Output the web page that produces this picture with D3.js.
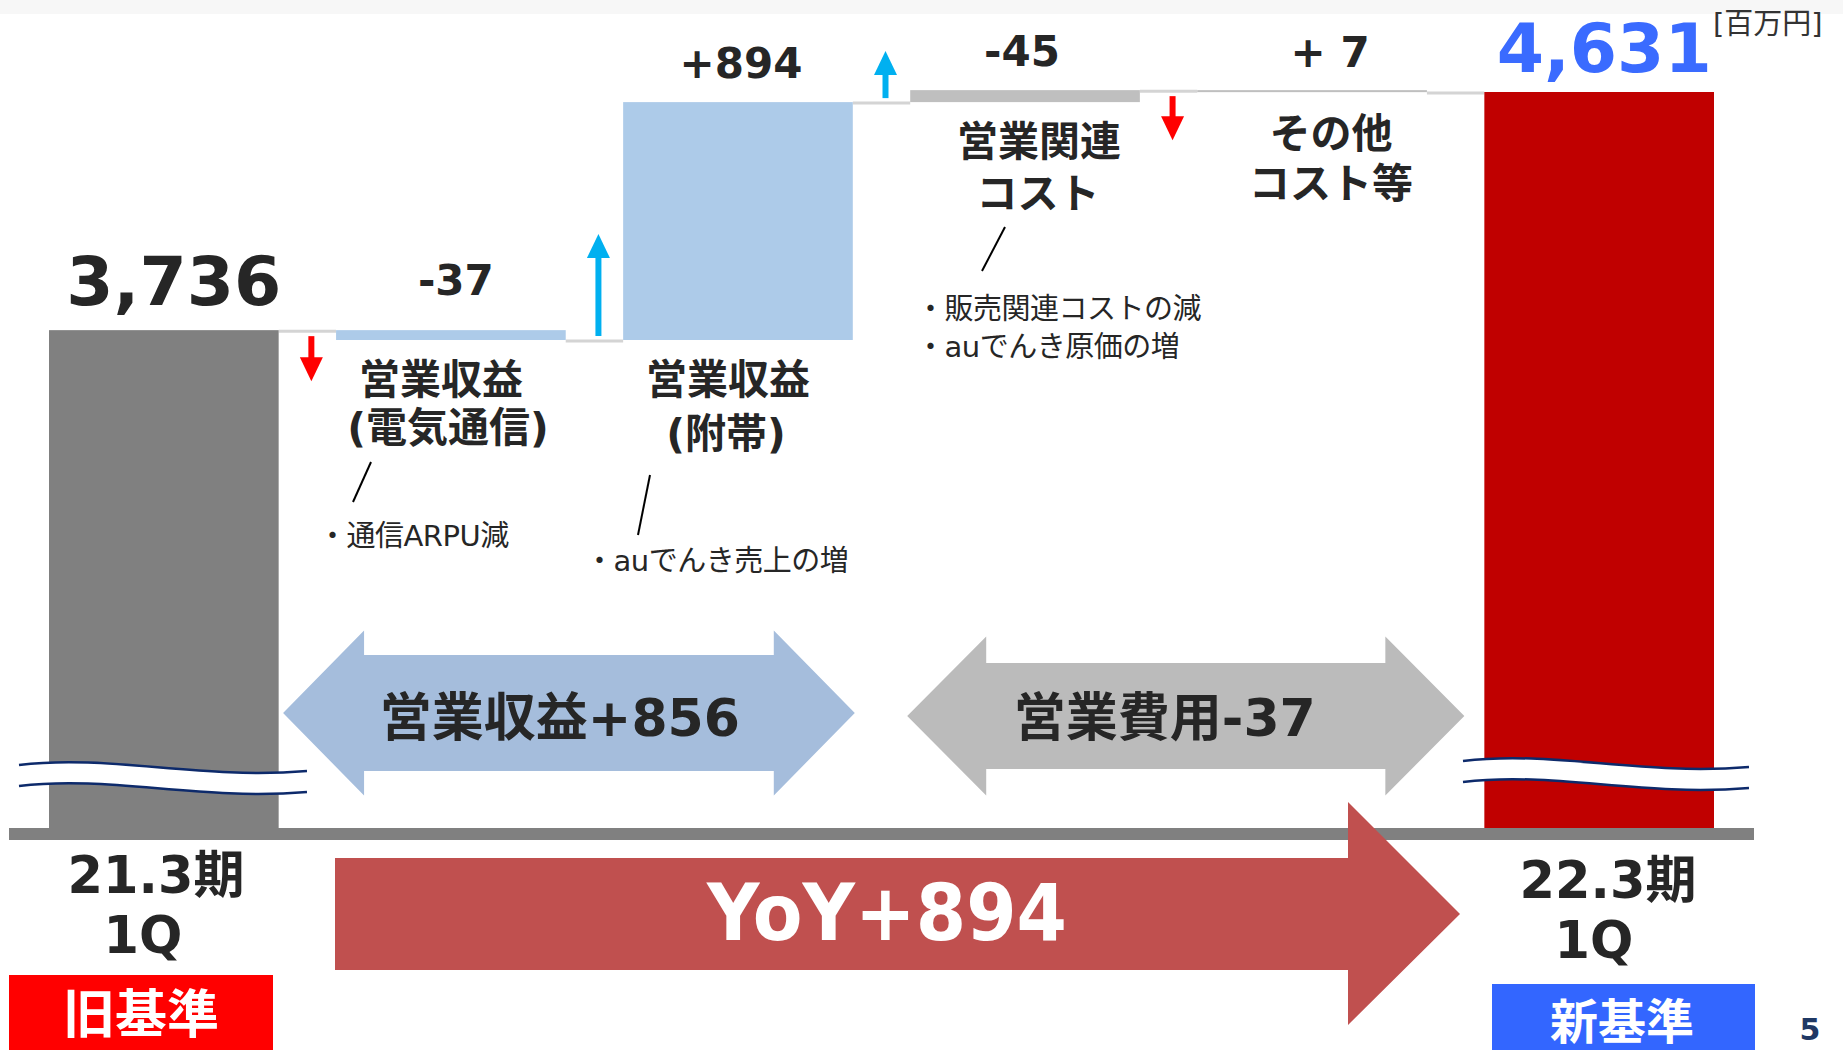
<!DOCTYPE html>
<html>
<head>
<meta charset="utf-8">
<script src="https://cdn.jsdelivr.net/npm/d3@7"></script>
<style>
  body { margin: 0; background: #fff; }
  svg { display: block; font-family: "DejaVu Sans", "Noto Sans CJK JP", sans-serif; }
</style>
</head>
<body>
<svg width="1843" height="1050"></svg>
<script>
// waterfall data, 百万円
var categories = ["21.3期1Q", "営業収益(電気通信)", "営業収益(附帯)", "営業関連コスト", "その他コスト等", "22.3期1Q"];
var kinds = ["total", "delta", "delta", "delta", "delta", "total"];
var values = [3736, -37, 894, 45, -7, 4631];   // effect on profit
var valueLabels = ["3,736", "-37", "+894", "-45", "+ 7", "4,631"];
var titleLines = [[], ["営業収益", "(電気通信)"], ["営業収益", "(附帯)"], ["営業関連", "コスト"], ["その他", "コスト等"], []];
var noteLines = [[], ["・通信ARPU減"], ["・auでんき売上の増"], ["・販売関連コストの減", "・auでんき原価の増"], [], []];
var periodLines = [["21.3期", "1Q"], ["22.3期", "1Q"]];
var basisLabels = ["旧基準", "新基準"];
var summaryLabels = ["営業収益+856", "営業費用-37"];
var yoyLabel = "YoY+894";
var unitLabel = "[百万円]";
var pageNumber = "5";
var axisFloor = 1865;  // value at the broken baseline

var svg = d3.select("svg"),
    width = +svg.attr("width"),
    height = +svg.attr("height"),
    ink = "#262626";

// faint strip at the top of the slide
svg.append("rect").attr("x", 0).attr("y", 0).attr("width", width).attr("height", 14).attr("fill", "#f7f7f7");

var x = d3.scaleBand()
    .domain(categories)
    .range([49, 1714])
    .paddingInner(0.2)
    .paddingOuter(0);

var y = d3.scaleLinear()
    .domain([axisFloor, 4631])
    .range([828, 92]);

var color = d3.scaleOrdinal()
    .domain(categories)
    .range(["#808080", "#adcbe9", "#adcbe9", "#bfbfbf", "#bfbfbf", "#c00000"]);

// running totals
var run = 0;
var bars = values.map(function(v, i) {
  var d = {cat: categories[i], kind: kinds[i], label: valueLabels[i], i: i};
  if (kinds[i] == "total") { d.v0 = axisFloor; d.v1 = v; run = v; }
  else { d.v0 = run; d.v1 = run + v; run = d.v1; }
  return d;
});

// connectors
var g = svg.append("g");
g.selectAll(".conn")
  .data(bars.slice(0, -1))
  .enter().append("line")
    .attr("class", "conn")
    .attr("x1", function(d) { return x(d.cat) + x.bandwidth(); })
    .attr("x2", function(d) { return x(categories[d.i + 1]); })
    .attr("y1", function(d) { return y(d.v1) + 1; })
    .attr("y2", function(d) { return y(d.v1) + 1; })
    .attr("stroke", "#d4d4d4")
    .attr("stroke-width", 3);

g.selectAll(".bar")
  .data(bars)
  .enter().append("rect")
    .attr("class", "bar")
    .attr("x", function(d) { return x(d.cat); })
    .attr("width", x.bandwidth())
    .attr("y", function(d) { return y(Math.max(d.v0, d.v1)); })
    .attr("height", function(d) { return Math.max(2, Math.abs(y(d.v0) - y(d.v1))); })
    .attr("fill", function(d) { return color(d.cat); });

// axis band
svg.append("rect").attr("x", 9).attr("y", 828).attr("width", 1745).attr("height", 12).attr("fill", "#808080");

// broken-axis marks
function wave(x0, x1, y0) {
  var w = x1 - x0;
  return "M" + x0 + "," + (y0 + 3) + " C" + (x0 + 0.32 * w) + "," + (y0 - 8) + " " + (x0 + 0.62 * w) + "," + (y0 + 18) + " " + x1 + "," + (y0 + 9);
}
function waveBand(x0, x1, y0, gap) {
  var w = x1 - x0;
  return wave(x0, x1, y0) + " L" + x1 + "," + (y0 + 9 + gap) +
    " C" + (x0 + 0.62 * w) + "," + (y0 + 18 + gap) + " " + (x0 + 0.32 * w) + "," + (y0 - 8 + gap) + " " + x0 + "," + (y0 + 3 + gap) + " Z";
}
[[19, 307, 762], [1463, 1749, 758]].forEach(function(b) {
  svg.append("path").attr("d", waveBand(b[0], b[1], b[2], 21)).attr("fill", "#fff");
  svg.append("path").attr("d", wave(b[0], b[1], b[2])).attr("fill", "none").attr("stroke", "#0d2a6b").attr("stroke-width", 2.5);
  svg.append("path").attr("d", wave(b[0], b[1], b[2] + 21)).attr("fill", "none").attr("stroke", "#0d2a6b").attr("stroke-width", 2.5);
});

// value labels
var labelDx = [10, 5, 3, -3, 18, 5],
    labelDy = [25, 35, 24, 24, 23, 20];
svg.selectAll(".vlabel")
  .data(bars)
  .enter().append("text")
    .attr("class", "vlabel")
    .attr("x", function(d) { return x(d.cat) + x.bandwidth() / 2 + labelDx[d.i]; })
    .attr("y", function(d) { return y(Math.max(d.v0, d.v1)) - labelDy[d.i]; })
    .attr("text-anchor", "middle")
    .attr("font-weight", "bold")
    .attr("font-size", function(d) { return d.kind == "total" ? 68 : 42; })
    .attr("fill", function(d) { return d.i == 5 ? "#3a6bff" : ink; })
    .text(function(d) { return d.label; });

svg.append("text")
  .attr("x", 1713).attr("y", 34)
  .attr("font-size", 29)
  .attr("fill", "#333")
  .text(unitLabel);

// small up/down arrows in the gaps
var arrowLen = [45, 102, 47, 44];
bars.slice(0, 4).forEach(function(d, k) {
  var next = bars[k + 1],
      up = next.v1 > next.v0,
      cx = (x(d.cat) + x.bandwidth() + x(next.cat)) / 2 + 4,
      y0 = y(d.v1) + (up ? -4 : 6),
      y1 = up ? y0 - arrowLen[k] : y0 + arrowLen[k],
      dir = up ? 1 : -1,
      col = up ? "#00b0f0" : "#ff0000";
  svg.append("line")
    .attr("x1", cx).attr("x2", cx)
    .attr("y1", y0).attr("y2", y1 + dir * 20)
    .attr("stroke", col).attr("stroke-width", 6);
  svg.append("path")
    .attr("d", "M" + (cx - 11.5) + "," + (y1 + dir * 24) + " L" + (cx + 11.5) + "," + (y1 + dir * 24) + " L" + cx + "," + y1 + " Z")
    .attr("fill", col);
});

// category titles
var titlePos = [null, [[441, 394], [448, 442]], [[728, 394], [726, 448]], [[1039, 156], [1038, 208]], [[1331, 148], [1331, 198]]];
titleLines.forEach(function(lines, i) {
  lines.forEach(function(t, j) {
    svg.append("text")
      .attr("x", titlePos[i][j][0]).attr("y", titlePos[i][j][1])
      .attr("text-anchor", "middle")
      .attr("font-size", 41)
      .attr("font-weight", "bold")
      .attr("fill", ink)
      .text(t);
  });
});

// notes and leader strokes
var notePos = [null, [[318, 546]], [[585, 571]], [[916, 319], [916, 357]]];
noteLines.forEach(function(lines, i) {
  lines.forEach(function(t, j) {
    svg.append("text")
      .attr("x", notePos[i][j][0]).attr("y", notePos[i][j][1])
      .attr("font-size", 29)
      .attr("letter-spacing", -0.5)
      .attr("fill", ink)
      .text(t);
  });
});
[[371, 462, 353, 502], [650, 475, 638, 535], [1005, 227, 982, 271]].forEach(function(s) {
  svg.append("line")
    .attr("x1", s[0]).attr("y1", s[1]).attr("x2", s[2]).attr("y2", s[3])
    .attr("stroke", "#000").attr("stroke-width", 2);
});

// double arrows for revenue / cost totals
function doubleArrow(xl, xr, yc, bodyH, headH, headL) {
  var bt = yc - bodyH / 2, bb = yc + bodyH / 2, ht = yc - headH / 2, hb = yc + headH / 2;
  return [[xl, yc], [xl + headL, ht], [xl + headL, bt], [xr - headL, bt], [xr - headL, ht], [xr, yc],
          [xr - headL, hb], [xr - headL, bb], [xl + headL, bb], [xl + headL, hb]];
}
var revL = x(categories[1]) - 53, revR = x(categories[2]) + x.bandwidth() + 2,
    costL = x(categories[3]) - 3, costR = x(categories[5]) - 20;
svg.append("polygon").attr("points", doubleArrow(revL, revR, 713, 116, 165, 81).join(" ")).attr("fill", "#a5bddc");
svg.append("polygon").attr("points", doubleArrow(costL, costR, 716, 106, 159, 79).join(" ")).attr("fill", "#bbbbbb");
[[(revL + revR) / 2 - 9, 736], [(costL + costR) / 2 - 21, 736]].forEach(function(p, i) {
  svg.append("text")
    .attr("x", p[0]).attr("y", p[1])
    .attr("text-anchor", "middle")
    .attr("font-size", 52)
    .attr("font-weight", "bold")
    .attr("fill", ink)
    .text(summaryLabels[i]);
});

// YoY arrow
var yoy = [[335, 858], [1348, 858], [1348, 802], [1460, 914], [1348, 1025], [1348, 970], [335, 970]];
svg.append("polygon").attr("points", yoy.join(" ")).attr("fill", "#c0504f");
svg.append("text")
  .attr("x", 707).attr("y", 940)
  .attr("font-size", 78)
  .attr("font-weight", "bold")
  .attr("fill", "#fff")
  .attr("textLength", 360)
  .attr("lengthAdjust", "spacingAndGlyphs")
  .text(yoyLabel);

// period labels
var periodPos = [[[156, 893], [143, 953]], [[1608, 898], [1594, 958]]];
periodLines.forEach(function(lines, i) {
  lines.forEach(function(t, j) {
    svg.append("text")
      .attr("x", periodPos[i][j][0]).attr("y", periodPos[i][j][1])
      .attr("text-anchor", "middle")
      .attr("font-size", 51)
      .attr("font-weight", "bold")
      .attr("fill", ink)
      .text(t);
  });
});

// basis tags
var tags = [{x: 9, y: 975, w: 264, fill: "#ff0000", tx: 141, ty: 1033, fs: 52},
            {x: 1492, y: 984, w: 263, fill: "#3366ff", tx: 1622, ty: 1039, fs: 48}];
tags.forEach(function(t, i) {
  svg.append("rect").attr("x", t.x).attr("y", t.y).attr("width", t.w).attr("height", height - t.y).attr("fill", t.fill);
  svg.append("text")
    .attr("x", t.tx).attr("y", t.ty)
    .attr("text-anchor", "middle")
    .attr("font-size", t.fs)
    .attr("font-weight", "bold")
    .attr("fill", "#fff")
    .text(basisLabels[i]);
});

svg.append("text")
  .attr("x", 1810).attr("y", 1040)
  .attr("text-anchor", "middle")
  .attr("font-size", 30)
  .attr("font-weight", "bold")
  .attr("fill", "#1f3864")
  .text(pageNumber);
</script>
</body>
</html>
